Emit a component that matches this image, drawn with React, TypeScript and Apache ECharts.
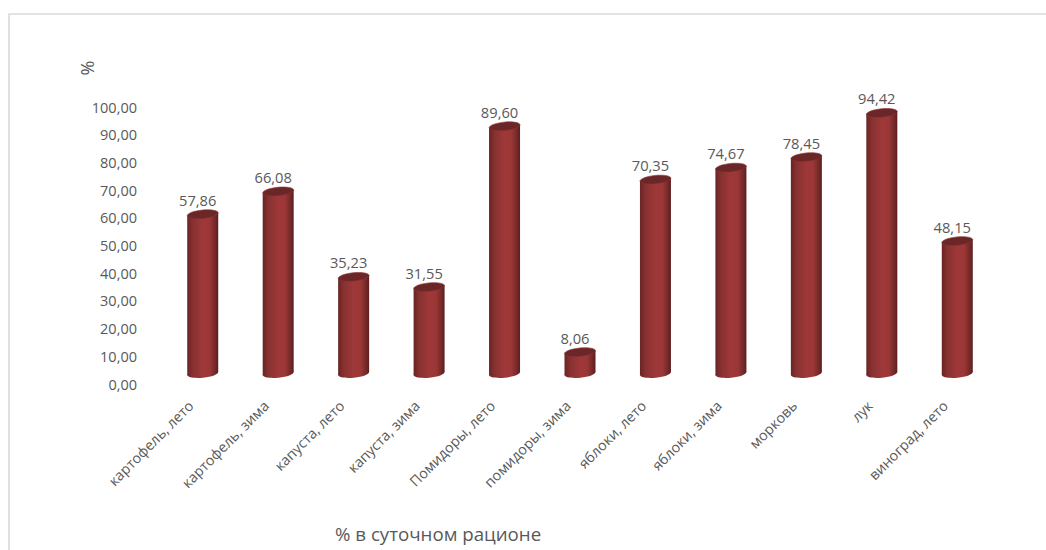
import React, { useEffect, useRef } from "react";
import * as echarts from "echarts";

const categories = ["картофель, лето", "картофель, зима", "капуста, лето", "капуста, зима", "Помидоры, лето", "помидоры, зима", "яблоки, лето", "яблоки, зима", "морковь", "лук", "виноград, лето"];
const values = [57.86, 66.08, 35.23, 31.55, 89.6, 8.06, 70.35, 74.67, 78.45, 94.42, 48.15];
const axisTitle = "%";
const chartTitle = "% в суточном рационе";
const FONT = "'Open Sans', sans-serif";
const fmt = (v: number) => v.toFixed(2).replace(".", ",");

const renderItem = (params: any, api: any) => {
  const [x, y0] = api.coord([api.value(0), 0]);
  const [, y1] = api.coord([api.value(0), api.value(1)]);
  const shift = 9.5, w = 15.5, ry = 4.2, tilt = 0.1, d = 1.6;
  const top = y1 - shift, base = y0 - shift - 1;
  const body = new echarts.graphic.LinearGradient(0, 0, 1, 0, [
    { offset: 0, color: "#6a2424" },
    { offset: 0.18, color: "#873131" },
    { offset: 0.5, color: "#9f3838" },
    { offset: 0.72, color: "#9c3737" },
    { offset: 0.92, color: "#702727" },
    { offset: 1, color: "#5a1e1e" },
  ]);
  return {
    type: "group",
    children: [
      { type: "ellipse", x, y: base, rotation: tilt, shape: { cx: 0, cy: 0, rx: w, ry }, style: { fill: body } },
      { type: "polygon", shape: { points: [[x - w, top + d], [x + w, top - d], [x + w, base - d], [x - w, base + d]] }, style: { fill: body } },
      { type: "ellipse", x, y: top, rotation: tilt, shape: { cx: 0, cy: 0, rx: w, ry }, style: { fill: "#6b2727", stroke: "#8a3434", lineWidth: 0.6 } },
      { type: "text", x: x - 5, y: top - 14.5, style: { text: fmt(api.value(1)), fill: "#595959", font: `14.7px ${FONT}`, align: "center", verticalAlign: "middle" } },
    ],
  };
};

export default function App() {
  const ref = useRef<HTMLDivElement>(null);
  useEffect(() => {
    document.body.style.margin = "0";
    const chart = echarts.init(ref.current!, undefined, { renderer: "svg" });
    chart.setOption({
      animation: false,
      backgroundColor: "#ffffff",
      title: {
        text: chartTitle, left: 330, top: 519,
        textStyle: { color: "#595959", fontSize: 18.7, fontWeight: "normal", fontFamily: FONT },
      },
      grid: { left: 165, right: 51, top: 107, height: 277, containLabel: false },
      xAxis: {
        type: "category", data: categories,
        axisLine: { show: false }, axisTick: { show: false },
        axisLabel: { rotate: 45, interval: 0, color: "#595959", fontSize: 14.3, fontFamily: FONT, margin: 7, padding: [0, 17, 0, 0] },
      },
      yAxis: {
        type: "value", min: 0, max: 100, interval: 10,
        axisLine: { show: false }, axisTick: { show: false }, splitLine: { show: false },
        axisLabel: { color: "#595959", fontSize: 14.5, fontFamily: FONT, margin: 28, formatter: (v: number) => fmt(v) },
      },
      series: [{ type: "custom", renderItem, clip: false, data: values.map((v, i) => [i, v]), encode: { x: 0, y: 1 } }],
      graphic: [
        { type: "polyline", silent: true, shape: { points: [[9, 550], [9, 14], [1046, 14]] }, style: { fill: "none", stroke: "#d9d9d9", lineWidth: 1.6 } },
        { type: "text", silent: true, x: 87, y: 68, rotation: Math.PI / 2, style: { text: axisTitle, fill: "#595959", font: `18px ${FONT}`, align: "center", verticalAlign: "middle" } },
      ],
    });
    return () => chart.dispose();
  }, []);
  return <div ref={ref} style={{ width: 1046, height: 550 }} />;
}
